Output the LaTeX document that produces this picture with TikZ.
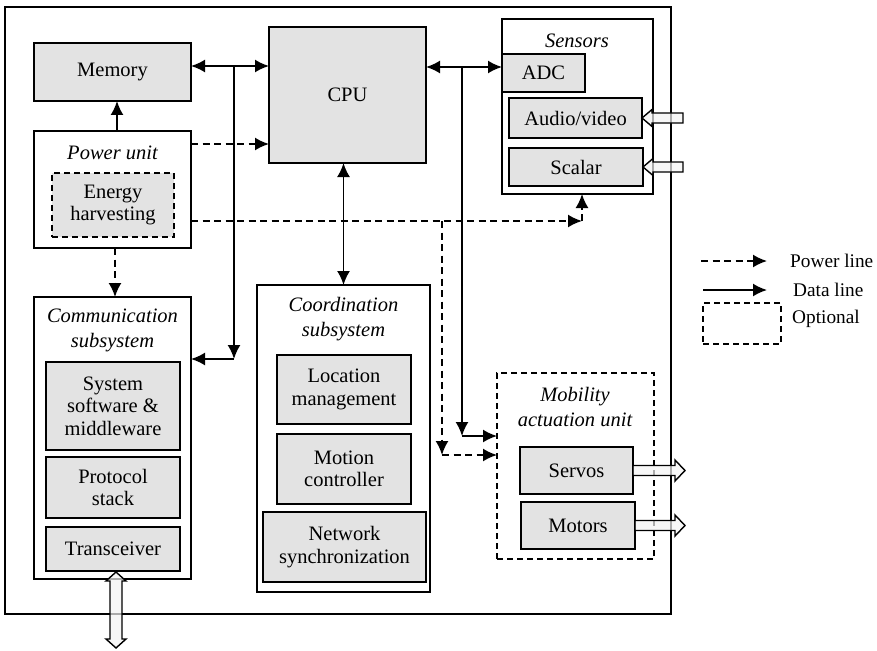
\documentclass[tikz,border=0pt]{standalone}
\usepackage{fontspec}
\setmainfont{Liberation Serif}
\usetikzlibrary{arrows.meta}
\definecolor{boxgray}{HTML}{E3E3E3}
\definecolor{arrfill}{HTML}{F4F4F4}
\tikzset{
  pics/barrow/.style 2 args={code={\path[blk] (0,0) -- (-10,-#2) -- (-10,-5) -- (-#1,-5) -- (-#1,5) -- (-10,5) -- (-10,#2) -- cycle;}}
}
\begin{document}
\begin{tikzpicture}[x=1pt,y=-1pt,
  txt/.style={font=\fontsize{20.5}{22.5}\selectfont\rmfamily},
  frame/.style={draw, line width=1.4pt, inner sep=0pt, outer sep=0pt},
  gbox/.style={frame, fill=boxgray, align=center, txt},
  cont/.style={frame, fill=white},
  opt/.style={draw, line width=1.4pt, dash pattern=on 6pt off 4pt, inner sep=0pt, outer sep=0pt},
  title/.style={font=\fontsize{20.5}{25}\selectfont\rmfamily\itshape, align=center, inner sep=0pt},
  data/.style={line width=1.8pt, -{Latex[length=14pt,width=13pt]}},
  data2/.style={line width=1.8pt, {Latex[length=14pt,width=13pt]}-{Latex[length=14pt,width=13pt]}},
  power/.style={line width=1.8pt, dash pattern=on 7pt off 4.5pt, -{Latex[length=14pt,width=13pt]}},
  blk/.style={draw, line width=1.4pt, fill=arrfill, fill opacity=0.7, line join=miter},
  legtext/.style={anchor=west, inner sep=0pt, font=\fontsize{19.3}{22}\selectfont\rmfamily}
]
\useasboundingbox (0,0) rectangle (877,650);

% outer frame
\node[frame, line width=2pt, minimum width=666, minimum height=607] (outer) at (338,310.5) {};

% memory, cpu, power
\node[gbox, minimum width=157, minimum height=58] (mem) at (112.5,72) {Memory};
\node[gbox, minimum width=157, minimum height=136] (cpu) at (347.5,95) {CPU};
\node[cont, minimum width=157, minimum height=117] (pwr) at (112.5,189.5) {};
\node[title] (pwrt) at (112.5,153) {Power unit};
\node[opt, fill=boxgray, align=center, txt, minimum width=122, minimum height=64] (eh) at (113,205) {Energy\\harvesting};

% sensors
\node[cont, minimum width=151, minimum height=175] (sens) at (577.5,106.5) {};
\node[title] (senst) at (577,41) {Sensors};
\node[gbox, minimum width=83, minimum height=38] (adc) at (543.5,73) {ADC};
\node[gbox, minimum width=133, minimum height=40] (av) at (575.5,118) {Audio/video};
\node[gbox, minimum width=134, minimum height=38] (sca) at (576,167) {Scalar};

% communication
\node[cont, minimum width=157, minimum height=282] (comm) at (112.5,438) {};
\node[title] (commt) at (112.5,330.5) {Communication\\subsystem};
\node[gbox, minimum width=134, minimum height=88] (sys) at (113,406) {System\\software \&\\middleware};
\node[gbox, minimum width=134, minimum height=61] (proto) at (113,487.5) {Protocol\\stack};
\node[gbox, minimum width=134, minimum height=44] (trx) at (113,549) {Transceiver};

% coordination
\node[cont, minimum width=173, minimum height=307] (coord) at (343.5,438.5) {};
\node[title] (coordt) at (343.5,319.5) {Coordination\\subsystem};
\node[gbox, minimum width=134, minimum height=69] (loc) at (344,389.5) {Location\\management};
\node[gbox, minimum width=134, minimum height=70] (mot) at (344,469) {Motion\\controller};
\node[gbox, minimum width=163, minimum height=70] (net) at (344.5,547) {Network\\synchronization};

% mobility
\node[opt, minimum width=157, minimum height=186] (mob) at (575.5,466) {};
\node[title] (mobt) at (575,407.5) {Mobility\\actuation unit};
\node[gbox, minimum width=113, minimum height=47] (serv) at (576.5,470.5) {Servos};
\node[gbox, minimum width=114, minimum height=47] (motr) at (578,525.5) {Motors};

% data lines
\coordinate (j1) at (234,66);
\coordinate (j1b) at (234,359);
\draw[data2] (mem.east |- j1) -- (cpu.west |- j1);
\draw[data] (j1) -- (j1b);
\draw[data] (j1b) -- (comm.east |- j1b);

\coordinate (j2) at (462,67);
\coordinate (j2b) at (462,436);
\draw[data2] (cpu.east |- j2) -- (adc.west |- j2);
\draw[data] (j2) -- (j2b);
\draw[data] (j2b) -- (mob.west |- j2b);

\draw[data2] (cpu.south -| coord.north) -- (coord.north);
\draw[data] ([xshift=4.5]pwr.north) -- ([xshift=4.5]mem.south);

% power lines
\coordinate (p1) at (191,144);
\draw[power] (p1) -- (cpu.west |- p1);
\coordinate (p2) at (582,221);
\draw[power] (pwr.east |- p2) -- (p2);
\draw[power] (p2) -- (sens.south -| p2);
\coordinate (p3) at (442,221);
\coordinate (p3b) at (442,455);
\draw[power] (p3) -- (p3b);
\draw[power] (p3b) -- (mob.west |- p3b);
\draw[power] ([xshift=2.5]pwr.south) -- ([xshift=2.5]comm.north);

% block arrows
\pic[rotate=180] at (av.east) {barrow={41}{8.5}};
\pic[rotate=180] at (sca.east) {barrow={40}{8.5}};
\pic at ([xshift=52]serv.east) {barrow={52}{10.5}};
\pic at ([xshift=50]motr.east) {barrow={50}{10.5}};
\coordinate (tt) at (116,572);
\coordinate (tb) at (116,648);
\path[blk] (tt) -- ++(10,9) -- ++(-4,0) -- ++(0,58) -- ++(4,0) -- (tb) -- ++(-10,-9) -- ++(4,0) -- ++(0,-58) -- ++(-4,0) -- cycle;

% legend
\coordinate (l1a) at (701,261);
\coordinate (l1b) at (767,261);
\draw[power] (l1a) -- (l1b);
\node[legtext] (lpt) at (790,261) {Power line};
\coordinate (l2a) at (703,290);
\coordinate (l2b) at (767,290);
\draw[data] (l2a) -- (l2b);
\node[legtext] (ldt) at (793,290) {Data line};
\node[opt, minimum width=78, minimum height=41] (lopt) at (742,323.5) {};
\node[legtext] (lot) at (792,319) {Optional};
\end{tikzpicture}
\end{document}
